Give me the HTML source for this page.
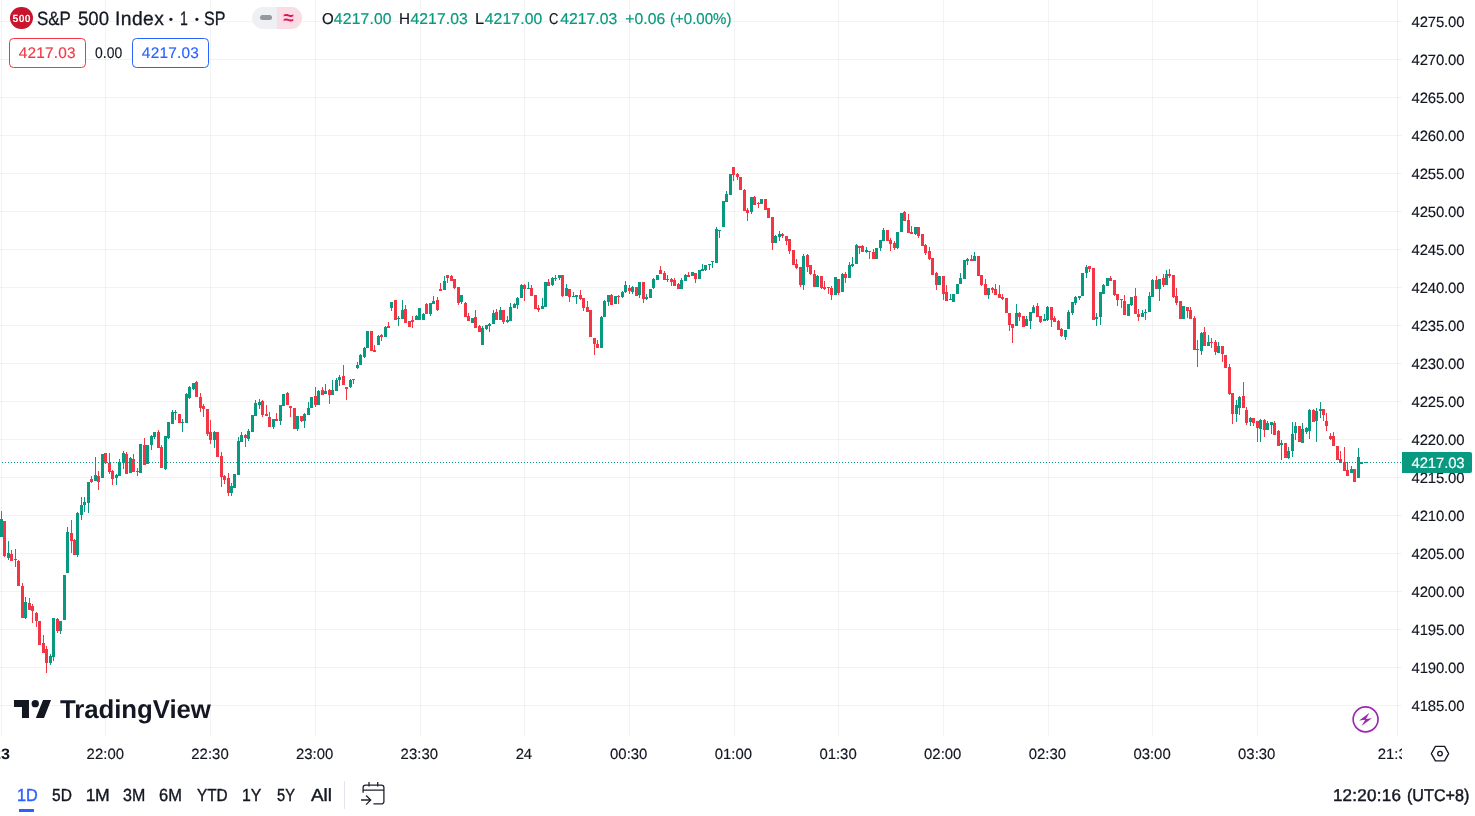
<!DOCTYPE html>
<html lang="en"><head><meta charset="utf-8"><title>S&amp;P 500 Index chart</title>
<style>
html,body{margin:0;padding:0;background:#fff}
body{width:1475px;height:816px;position:relative;overflow:hidden;font-family:"Liberation Sans",sans-serif}
.t{position:absolute;white-space:nowrap;font-family:"Liberation Sans",sans-serif;text-rendering:geometricPrecision}
svg{display:block}
</style></head><body>
<svg style="position:absolute;left:0;top:0" width="1475" height="816" viewBox="0 0 1475 816" shape-rendering="crispEdges">
<rect x="0" y="21" width="1402" height="1" fill="rgba(42,46,57,0.06)"/>
<rect x="0" y="59" width="1402" height="1" fill="rgba(42,46,57,0.06)"/>
<rect x="0" y="97" width="1402" height="1" fill="rgba(42,46,57,0.06)"/>
<rect x="0" y="135" width="1402" height="1" fill="rgba(42,46,57,0.06)"/>
<rect x="0" y="173" width="1402" height="1" fill="rgba(42,46,57,0.06)"/>
<rect x="0" y="211" width="1402" height="1" fill="rgba(42,46,57,0.06)"/>
<rect x="0" y="249" width="1402" height="1" fill="rgba(42,46,57,0.06)"/>
<rect x="0" y="287" width="1402" height="1" fill="rgba(42,46,57,0.06)"/>
<rect x="0" y="325" width="1402" height="1" fill="rgba(42,46,57,0.06)"/>
<rect x="0" y="363" width="1402" height="1" fill="rgba(42,46,57,0.06)"/>
<rect x="0" y="401" width="1402" height="1" fill="rgba(42,46,57,0.06)"/>
<rect x="0" y="439" width="1402" height="1" fill="rgba(42,46,57,0.06)"/>
<rect x="0" y="477" width="1402" height="1" fill="rgba(42,46,57,0.06)"/>
<rect x="0" y="515" width="1402" height="1" fill="rgba(42,46,57,0.06)"/>
<rect x="0" y="553" width="1402" height="1" fill="rgba(42,46,57,0.06)"/>
<rect x="0" y="591" width="1402" height="1" fill="rgba(42,46,57,0.06)"/>
<rect x="0" y="629" width="1402" height="1" fill="rgba(42,46,57,0.06)"/>
<rect x="0" y="667" width="1402" height="1" fill="rgba(42,46,57,0.06)"/>
<rect x="0" y="705" width="1402" height="1" fill="rgba(42,46,57,0.06)"/>
<rect x="1" y="0" width="1" height="736" fill="rgba(42,46,57,0.06)"/>
<rect x="105" y="0" width="1" height="736" fill="rgba(42,46,57,0.06)"/>
<rect x="210" y="0" width="1" height="736" fill="rgba(42,46,57,0.06)"/>
<rect x="315" y="0" width="1" height="736" fill="rgba(42,46,57,0.06)"/>
<rect x="420" y="0" width="1" height="736" fill="rgba(42,46,57,0.06)"/>
<rect x="524" y="0" width="1" height="736" fill="rgba(42,46,57,0.06)"/>
<rect x="629" y="0" width="1" height="736" fill="rgba(42,46,57,0.06)"/>
<rect x="734" y="0" width="1" height="736" fill="rgba(42,46,57,0.06)"/>
<rect x="838" y="0" width="1" height="736" fill="rgba(42,46,57,0.06)"/>
<rect x="943" y="0" width="1" height="736" fill="rgba(42,46,57,0.06)"/>
<rect x="1048" y="0" width="1" height="736" fill="rgba(42,46,57,0.06)"/>
<rect x="1152" y="0" width="1" height="736" fill="rgba(42,46,57,0.06)"/>
<rect x="1257" y="0" width="1" height="736" fill="rgba(42,46,57,0.06)"/>
<rect x="1397" y="0" width="1" height="736" fill="rgba(42,46,57,0.065)"/>
<path fill="#089981" d="M1 511h1V537h-1zM8 541h1V560h-1zM15 549h1V567h-1zM25 597h1V619h-1zM50 654h1V665h-1zM53 618h1V661h-1zM60 621h1V634h-1zM64 575h1V620h-1zM67 527h1V573h-1zM77 512h1V557h-1zM81 497h1V520h-1zM84 497h1V512h-1zM88 482h1V513h-1zM95 457h1V481h-1zM102 454h1V478h-1zM116 474h1V485h-1zM119 459h1V476h-1zM123 451h1V469h-1zM130 457h1V473h-1zM140 444h1V473h-1zM147 445h1V464h-1zM151 435h1V450h-1zM154 432h1V439h-1zM165 436h1V470h-1zM168 422h1V439h-1zM172 410h1V424h-1zM175 410h1V420h-1zM182 419h1V432h-1zM186 393h1V423h-1zM189 386h1V399h-1zM193 383h1V390h-1zM214 431h1V448h-1zM231 483h1V496h-1zM234 474h1V488h-1zM238 437h1V475h-1zM241 432h1V442h-1zM248 429h1V441h-1zM252 415h1V432h-1zM255 400h1V416h-1zM259 399h1V409h-1zM273 419h1V429h-1zM280 405h1V425h-1zM283 394h1V406h-1zM297 416h1V431h-1zM304 413h1V428h-1zM308 402h1V415h-1zM311 397h1V408h-1zM318 390h1V405h-1zM325 384h1V394h-1zM332 380h1V395h-1zM336 378h1V391h-1zM339 375h1V386h-1zM350 379h1V388h-1zM357 362h1V369h-1zM360 354h1V365h-1zM364 347h1V358h-1zM367 331h1V348h-1zM378 335h1V345h-1zM385 326h1V337h-1zM391 302h1V311h-1zM398 316h1V326h-1zM402 300h1V319h-1zM416 315h1V320h-1zM419 308h1V320h-1zM423 313h1V320h-1zM430 303h1V316h-1zM433 296h1V304h-1zM444 276h1V290h-1zM461 295h1V304h-1zM472 318h1V323h-1zM482 326h1V345h-1zM486 325h1V330h-1zM489 323h1V332h-1zM493 310h1V324h-1zM500 307h1V320h-1zM507 316h1V323h-1zM510 303h1V321h-1zM514 303h1V308h-1zM517 297h1V309h-1zM521 284h1V298h-1zM528 282h1V289h-1zM542 298h1V309h-1zM545 282h1V307h-1zM552 277h1V286h-1zM555 275h1V281h-1zM559 275h1V280h-1zM566 284h1V296h-1zM573 292h1V297h-1zM576 295h1V304h-1zM601 316h1V348h-1zM604 300h1V317h-1zM608 295h1V306h-1zM615 296h1V304h-1zM622 291h1V298h-1zM625 281h1V293h-1zM632 286h1V294h-1zM639 282h1V298h-1zM646 294h1V300h-1zM650 289h1V298h-1zM653 278h1V289h-1zM657 275h1V280h-1zM667 275h1V282h-1zM681 278h1V289h-1zM685 274h1V281h-1zM692 272h1V276h-1zM699 270h1V279h-1zM702 264h1V271h-1zM705 265h1V271h-1zM709 264h1V270h-1zM712 261h1V268h-1zM716 227h1V263h-1zM719 230h1V238h-1zM723 201h1V227h-1zM726 191h1V202h-1zM730 174h1V195h-1zM751 197h1V214h-1zM761 199h1V204h-1zM775 235h1V243h-1zM779 231h1V241h-1zM803 254h1V290h-1zM817 275h1V287h-1zM835 277h1V295h-1zM842 273h1V292h-1zM849 262h1V278h-1zM852 257h1V267h-1zM856 244h1V264h-1zM866 247h1V253h-1zM876 248h1V259h-1zM880 240h1V251h-1zM883 228h1V241h-1zM897 232h1V249h-1zM901 213h1V232h-1zM915 227h1V235h-1zM939 276h1V285h-1zM950 294h1V300h-1zM953 294h1V302h-1zM957 284h1V294h-1zM960 273h1V284h-1zM964 260h1V279h-1zM967 258h1V265h-1zM974 252h1V261h-1zM988 288h1V299h-1zM1016 304h1V326h-1zM1026 316h1V326h-1zM1030 312h1V329h-1zM1033 305h1V313h-1zM1044 314h1V321h-1zM1047 306h1V321h-1zM1065 330h1V340h-1zM1068 310h1V329h-1zM1072 302h1V315h-1zM1075 296h1V305h-1zM1079 296h1V300h-1zM1082 273h1V296h-1zM1086 265h1V278h-1zM1096 313h1V326h-1zM1100 292h1V325h-1zM1103 284h1V294h-1zM1107 278h1V286h-1zM1128 304h1V316h-1zM1131 297h1V306h-1zM1142 310h1V317h-1zM1145 309h1V320h-1zM1149 292h1V312h-1zM1152 279h1V297h-1zM1159 279h1V301h-1zM1166 270h1V285h-1zM1183 306h1V319h-1zM1201 332h1V355h-1zM1208 335h1V346h-1zM1218 342h1V353h-1zM1236 400h1V422h-1zM1239 396h1V415h-1zM1250 417h1V426h-1zM1260 419h1V442h-1zM1267 421h1V430h-1zM1271 422h1V434h-1zM1281 440h1V460h-1zM1288 447h1V459h-1zM1292 422h1V457h-1zM1295 422h1V440h-1zM1302 423h1V443h-1zM1306 427h1V434h-1zM1309 409h1V439h-1zM1316 408h1V442h-1zM1320 402h1V418h-1zM1351 466h1V473h-1zM1358 448h1V478h-1zM0 519h3V537h-3zM7 553h3V558h-3zM14 559h3V560h-3zM24 602h3V618h-3zM49 656h3V663h-3zM52 618h3V657h-3zM59 621h3V631h-3zM63 575h3V620h-3zM66 532h3V573h-3zM76 513h3V555h-3zM80 505h3V515h-3zM83 502h3V505h-3zM87 482h3V503h-3zM94 475h3V481h-3zM101 454h3V478h-3zM115 475h3V478h-3zM118 462h3V476h-3zM122 453h3V463h-3zM129 458h3V473h-3zM139 444h3V473h-3zM146 445h3V464h-3zM150 436h3V445h-3zM153 432h3V437h-3zM164 436h3V469h-3zM167 422h3V438h-3zM171 412h3V424h-3zM174 412h3V413h-3zM181 422h3V423h-3zM185 394h3V423h-3zM188 387h3V398h-3zM192 383h3V389h-3zM213 432h3V440h-3zM230 486h3V493h-3zM233 474h3V488h-3zM237 441h3V475h-3zM240 435h3V442h-3zM247 431h3V439h-3zM251 415h3V432h-3zM254 403h3V416h-3zM258 402h3V405h-3zM272 419h3V427h-3zM279 405h3V421h-3zM282 394h3V406h-3zM296 416h3V429h-3zM303 414h3V421h-3zM307 408h3V415h-3zM310 397h3V408h-3zM317 391h3V405h-3zM324 391h3V394h-3zM331 390h3V395h-3zM335 380h3V391h-3zM338 377h3V380h-3zM349 380h3V387h-3zM356 365h3V368h-3zM359 355h3V365h-3zM363 348h3V357h-3zM366 331h3V348h-3zM377 336h3V345h-3zM384 327h3V337h-3zM390 302h3V308h-3zM397 318h3V319h-3zM401 310h3V319h-3zM415 316h3V320h-3zM418 308h3V320h-3zM422 314h3V320h-3zM429 303h3V314h-3zM432 301h3V304h-3zM443 281h3V290h-3zM460 295h3V302h-3zM471 318h3V323h-3zM481 328h3V345h-3zM485 325h3V329h-3zM488 324h3V326h-3zM492 313h3V324h-3zM499 310h3V320h-3zM506 320h3V322h-3zM509 307h3V321h-3zM513 304h3V308h-3zM516 298h3V305h-3zM520 285h3V298h-3zM527 288h3V289h-3zM541 306h3V309h-3zM544 282h3V307h-3zM551 278h3V285h-3zM554 278h3V279h-3zM558 275h3V278h-3zM565 288h3V296h-3zM572 296h3V297h-3zM575 295h3V297h-3zM600 317h3V348h-3zM603 301h3V317h-3zM607 295h3V302h-3zM614 296h3V304h-3zM621 292h3V297h-3zM624 285h3V292h-3zM631 287h3V292h-3zM638 282h3V295h-3zM645 297h3V299h-3zM649 289h3V298h-3zM652 279h3V288h-3zM656 275h3V280h-3zM666 279h3V280h-3zM680 280h3V289h-3zM684 275h3V281h-3zM691 272h3V276h-3zM698 270h3V279h-3zM701 269h3V271h-3zM704 265h3V270h-3zM708 264h3V265h-3zM711 261h3V262h-3zM715 229h3V263h-3zM718 230h3V231h-3zM722 201h3V227h-3zM725 194h3V202h-3zM729 174h3V195h-3zM750 197h3V212h-3zM760 199h3V204h-3zM774 236h3V243h-3zM778 234h3V237h-3zM802 256h3V285h-3zM816 276h3V287h-3zM834 277h3V295h-3zM841 274h3V292h-3zM848 265h3V278h-3zM851 264h3V266h-3zM855 245h3V264h-3zM865 250h3V252h-3zM875 248h3V259h-3zM879 240h3V248h-3zM882 230h3V241h-3zM896 232h3V248h-3zM900 213h3V232h-3zM914 227h3V234h-3zM938 276h3V285h-3zM949 299h3V300h-3zM952 294h3V302h-3zM956 284h3V294h-3zM959 278h3V284h-3zM963 260h3V279h-3zM966 259h3V261h-3zM973 256h3V261h-3zM987 288h3V295h-3zM1015 313h3V326h-3zM1025 319h3V326h-3zM1029 312h3V321h-3zM1032 307h3V313h-3zM1043 319h3V321h-3zM1046 307h3V320h-3zM1064 330h3V337h-3zM1067 312h3V329h-3zM1071 302h3V313h-3zM1074 297h3V303h-3zM1078 296h3V298h-3zM1081 273h3V296h-3zM1085 267h3V273h-3zM1095 317h3V319h-3zM1099 292h3V317h-3zM1102 285h3V294h-3zM1106 278h3V286h-3zM1127 304h3V316h-3zM1130 297h3V305h-3zM1141 313h3V317h-3zM1144 312h3V313h-3zM1148 296h3V312h-3zM1151 280h3V297h-3zM1158 279h3V289h-3zM1165 274h3V285h-3zM1182 306h3V319h-3zM1200 333h3V351h-3zM1207 342h3V346h-3zM1217 346h3V353h-3zM1235 405h3V414h-3zM1238 397h3V408h-3zM1249 418h3V422h-3zM1259 420h3V429h-3zM1266 423h3V430h-3zM1270 422h3V425h-3zM1280 443h3V445h-3zM1287 451h3V458h-3zM1291 434h3V451h-3zM1294 426h3V433h-3zM1301 429h3V443h-3zM1305 428h3V432h-3zM1308 410h3V431h-3zM1315 411h3V421h-3zM1319 409h3V411h-3zM1350 469h3V473h-3zM1357 457h3V478h-3z"/>
<path fill="#F23645" d="M4 521h1V557h-1zM11 550h1V561h-1zM18 560h1V586h-1zM22 583h1V618h-1zM29 598h1V610h-1zM32 604h1V623h-1zM36 612h1V627h-1zM39 621h1V645h-1zM43 635h1V653h-1zM46 646h1V673h-1zM57 618h1V633h-1zM71 520h1V553h-1zM74 539h1V555h-1zM91 476h1V483h-1zM98 471h1V490h-1zM105 453h1V464h-1zM109 453h1V474h-1zM112 470h1V485h-1zM126 452h1V474h-1zM133 454h1V472h-1zM137 468h1V476h-1zM144 438h1V465h-1zM158 430h1V448h-1zM161 445h1V468h-1zM179 414h1V423h-1zM196 381h1V397h-1zM200 393h1V412h-1zM203 404h1V417h-1zM207 409h1V436h-1zM210 420h1V444h-1zM217 432h1V457h-1zM221 452h1V487h-1zM224 475h1V484h-1zM228 473h1V496h-1zM245 434h1V447h-1zM262 400h1V417h-1zM266 405h1V416h-1zM269 412h1V427h-1zM276 413h1V421h-1zM287 392h1V405h-1zM290 406h1V417h-1zM294 408h1V429h-1zM301 416h1V422h-1zM315 387h1V407h-1zM322 387h1V395h-1zM329 389h1V404h-1zM343 365h1V385h-1zM346 387h1V400h-1zM353 379h1V384h-1zM371 331h1V351h-1zM374 345h1V352h-1zM381 334h1V341h-1zM388 322h1V328h-1zM395 300h1V320h-1zM405 305h1V323h-1zM409 321h1V327h-1zM412 316h1V328h-1zM426 303h1V314h-1zM437 297h1V311h-1zM440 283h1V291h-1zM447 275h1V283h-1zM451 275h1V281h-1zM454 279h1V289h-1zM458 287h1V305h-1zM465 302h1V317h-1zM468 313h1V321h-1zM475 310h1V328h-1zM479 325h1V332h-1zM496 309h1V320h-1zM503 310h1V324h-1zM524 284h1V301h-1zM531 285h1V296h-1zM535 295h1V309h-1zM538 305h1V312h-1zM548 279h1V286h-1zM562 275h1V297h-1zM569 289h1V302h-1zM580 290h1V300h-1zM583 298h1V311h-1zM587 301h1V312h-1zM590 310h1V337h-1zM594 338h1V355h-1zM597 340h1V348h-1zM611 294h1V305h-1zM618 295h1V304h-1zM629 285h1V294h-1zM636 287h1V296h-1zM643 282h1V303h-1zM660 266h1V274h-1zM664 271h1V280h-1zM671 278h1V286h-1zM674 278h1V286h-1zM678 283h1V289h-1zM688 272h1V277h-1zM695 273h1V283h-1zM733 167h1V181h-1zM737 173h1V180h-1zM740 177h1V190h-1zM744 189h1V211h-1zM747 208h1V221h-1zM754 196h1V205h-1zM758 202h1V208h-1zM765 199h1V210h-1zM768 208h1V218h-1zM772 217h1V250h-1zM782 233h1V238h-1zM786 236h1V245h-1zM789 239h1V254h-1zM793 250h1V265h-1zM796 259h1V269h-1zM800 267h1V287h-1zM807 254h1V272h-1zM810 265h1V275h-1zM814 270h1V287h-1zM821 276h1V289h-1zM824 281h1V290h-1zM828 287h1V294h-1zM831 286h1V300h-1zM838 279h1V295h-1zM845 272h1V283h-1zM859 246h1V254h-1zM862 245h1V252h-1zM869 251h1V259h-1zM873 249h1V259h-1zM887 230h1V241h-1zM890 238h1V251h-1zM894 241h1V250h-1zM904 211h1V221h-1zM908 214h1V233h-1zM911 226h1V234h-1zM918 227h1V238h-1zM922 234h1V246h-1zM925 244h1V255h-1zM929 247h1V260h-1zM932 258h1V275h-1zM936 272h1V290h-1zM943 276h1V300h-1zM946 285h1V301h-1zM971 255h1V261h-1zM978 256h1V276h-1zM981 275h1V286h-1zM985 279h1V295h-1zM992 287h1V293h-1zM995 284h1V295h-1zM999 285h1V298h-1zM1002 294h1V300h-1zM1006 298h1V313h-1zM1009 313h1V331h-1zM1012 324h1V343h-1zM1019 312h1V321h-1zM1023 316h1V327h-1zM1037 303h1V317h-1zM1040 316h1V323h-1zM1051 307h1V327h-1zM1054 316h1V322h-1zM1058 320h1V330h-1zM1061 328h1V337h-1zM1089 266h1V272h-1zM1093 268h1V320h-1zM1110 276h1V281h-1zM1114 280h1V296h-1zM1117 294h1V306h-1zM1121 299h1V308h-1zM1124 295h1V315h-1zM1135 288h1V314h-1zM1138 309h1V321h-1zM1156 276h1V289h-1zM1163 274h1V287h-1zM1169 269h1V278h-1zM1173 275h1V298h-1zM1176 288h1V305h-1zM1180 301h1V319h-1zM1187 307h1V318h-1zM1190 307h1V319h-1zM1194 316h1V350h-1zM1197 340h1V367h-1zM1204 327h1V346h-1zM1211 338h1V348h-1zM1215 340h1V355h-1zM1222 346h1V362h-1zM1225 355h1V368h-1zM1229 364h1V395h-1zM1232 393h1V424h-1zM1243 382h1V408h-1zM1246 407h1V425h-1zM1253 418h1V426h-1zM1257 421h1V442h-1zM1264 419h1V437h-1zM1274 421h1V435h-1zM1278 430h1V446h-1zM1285 443h1V458h-1zM1299 426h1V442h-1zM1313 409h1V422h-1zM1323 409h1V421h-1zM1326 413h1V431h-1zM1330 433h1V440h-1zM1333 432h1V446h-1zM1337 446h1V460h-1zM1340 451h1V463h-1zM1344 447h1V471h-1zM1347 462h1V476h-1zM1354 469h1V482h-1zM3 521h3V556h-3zM10 554h3V561h-3zM17 561h3V586h-3zM21 586h3V618h-3zM28 603h3V610h-3zM31 606h3V611h-3zM35 613h3V621h-3zM38 621h3V645h-3zM42 643h3V653h-3zM45 649h3V663h-3zM56 619h3V631h-3zM70 533h3V541h-3zM73 540h3V555h-3zM90 479h3V482h-3zM97 476h3V482h-3zM104 453h3V463h-3zM108 463h3V472h-3zM111 471h3V479h-3zM125 454h3V474h-3zM132 459h3V472h-3zM136 471h3V472h-3zM143 445h3V465h-3zM157 432h3V448h-3zM160 447h3V468h-3zM178 414h3V423h-3zM195 382h3V397h-3zM199 397h3V408h-3zM202 406h3V409h-3zM206 409h3V434h-3zM209 432h3V440h-3zM216 432h3V457h-3zM220 456h3V477h-3zM223 476h3V480h-3zM227 478h3V493h-3zM244 435h3V438h-3zM261 401h3V415h-3zM265 414h3V416h-3zM268 417h3V427h-3zM275 419h3V421h-3zM286 393h3V405h-3zM289 406h3V408h-3zM293 408h3V429h-3zM300 416h3V421h-3zM314 396h3V405h-3zM321 390h3V395h-3zM328 390h3V395h-3zM342 376h3V385h-3zM345 387h3V389h-3zM352 379h3V380h-3zM370 331h3V351h-3zM373 350h3V352h-3zM380 335h3V337h-3zM387 326h3V328h-3zM394 300h3V320h-3zM404 309h3V323h-3zM408 321h3V327h-3zM411 320h3V322h-3zM425 304h3V314h-3zM436 300h3V310h-3zM439 289h3V291h-3zM446 275h3V278h-3zM450 276h3V281h-3zM453 279h3V288h-3zM457 287h3V303h-3zM464 303h3V317h-3zM467 316h3V321h-3zM474 317h3V328h-3zM478 326h3V332h-3zM495 312h3V320h-3zM502 310h3V322h-3zM523 285h3V289h-3zM530 288h3V296h-3zM534 295h3V309h-3zM537 308h3V310h-3zM547 282h3V286h-3zM561 275h3V296h-3zM568 289h3V297h-3zM579 295h3V299h-3zM582 298h3V308h-3zM586 307h3V312h-3zM589 310h3V337h-3zM593 338h3V344h-3zM596 344h3V348h-3zM610 295h3V305h-3zM617 296h3V297h-3zM628 288h3V291h-3zM635 287h3V296h-3zM642 282h3V299h-3zM659 270h3V274h-3zM663 273h3V280h-3zM670 279h3V282h-3zM673 280h3V286h-3zM677 284h3V289h-3zM687 275h3V277h-3zM694 273h3V279h-3zM732 167h3V175h-3zM736 174h3V177h-3zM739 177h3V190h-3zM743 190h3V211h-3zM746 210h3V213h-3zM753 197h3V205h-3zM757 203h3V204h-3zM764 199h3V210h-3zM767 208h3V218h-3zM771 217h3V243h-3zM781 234h3V236h-3zM785 236h3V241h-3zM788 239h3V251h-3zM792 250h3V265h-3zM795 264h3V268h-3zM799 267h3V285h-3zM806 255h3V267h-3zM809 265h3V274h-3zM813 274h3V287h-3zM820 276h3V288h-3zM823 287h3V289h-3zM827 287h3V288h-3zM830 288h3V295h-3zM837 279h3V293h-3zM844 274h3V278h-3zM858 246h3V248h-3zM861 246h3V252h-3zM868 251h3V252h-3zM872 252h3V259h-3zM886 230h3V241h-3zM889 240h3V244h-3zM893 243h3V248h-3zM903 212h3V221h-3zM907 220h3V233h-3zM910 232h3V234h-3zM917 227h3V236h-3zM921 234h3V246h-3zM924 245h3V253h-3zM928 251h3V259h-3zM931 258h3V275h-3zM935 273h3V285h-3zM942 276h3V294h-3zM945 292h3V301h-3zM970 259h3V261h-3zM977 256h3V276h-3zM980 275h3V285h-3zM984 284h3V295h-3zM991 288h3V290h-3zM994 289h3V295h-3zM998 294h3V298h-3zM1001 297h3V299h-3zM1005 298h3V313h-3zM1008 313h3V325h-3zM1011 324h3V328h-3zM1018 313h3V317h-3zM1022 316h3V327h-3zM1036 306h3V317h-3zM1039 316h3V322h-3zM1050 307h3V320h-3zM1053 318h3V322h-3zM1057 321h3V330h-3zM1060 329h3V336h-3zM1088 266h3V269h-3zM1092 268h3V320h-3zM1109 278h3V281h-3zM1113 280h3V295h-3zM1116 294h3V300h-3zM1120 299h3V300h-3zM1123 301h3V315h-3zM1134 296h3V314h-3zM1137 314h3V317h-3zM1155 280h3V289h-3zM1162 278h3V285h-3zM1168 274h3V276h-3zM1172 275h3V297h-3zM1175 296h3V303h-3zM1179 301h3V319h-3zM1186 307h3V311h-3zM1189 310h3V319h-3zM1193 318h3V350h-3zM1196 349h3V350h-3zM1203 332h3V346h-3zM1210 342h3V343h-3zM1214 342h3V352h-3zM1221 346h3V354h-3zM1224 355h3V368h-3zM1228 367h3V394h-3zM1231 393h3V414h-3zM1242 396h3V408h-3zM1245 410h3V423h-3zM1252 418h3V423h-3zM1256 421h3V428h-3zM1263 420h3V430h-3zM1273 423h3V435h-3zM1277 431h3V446h-3zM1284 443h3V458h-3zM1298 426h3V442h-3zM1312 410h3V422h-3zM1322 409h3V415h-3zM1325 421h3V426h-3zM1329 436h3V439h-3zM1332 436h3V446h-3zM1336 446h3V460h-3zM1339 459h3V463h-3zM1343 462h3V471h-3zM1346 470h3V476h-3zM1353 469h3V482h-3z"/>
<line x1="2" y1="462.5" x2="1357" y2="462.5" stroke="#089981" stroke-width="1" stroke-dasharray="1 2"/><line x1="1370" y1="462.5" x2="1402" y2="462.5" stroke="#089981" stroke-width="1" stroke-dasharray="1 2"/>
<rect x="1360" y="462" width="3" height="2" fill="#089981"/><rect x="1364" y="462" width="4" height="1" fill="#089981"/>
</svg>
<div class="t" style="left:1411.56px;top:14.83px;font-size:14.9px;line-height:17.88px;letter-spacing:-0.139px;color:#131722;-webkit-text-stroke:0.15px #131722;">4275.00</div>
<div class="t" style="left:1411.56px;top:52.83px;font-size:14.9px;line-height:17.88px;letter-spacing:-0.139px;color:#131722;-webkit-text-stroke:0.15px #131722;">4270.00</div>
<div class="t" style="left:1411.56px;top:90.83px;font-size:14.9px;line-height:17.88px;letter-spacing:-0.139px;color:#131722;-webkit-text-stroke:0.15px #131722;">4265.00</div>
<div class="t" style="left:1411.56px;top:128.83px;font-size:14.9px;line-height:17.88px;letter-spacing:-0.139px;color:#131722;-webkit-text-stroke:0.15px #131722;">4260.00</div>
<div class="t" style="left:1411.56px;top:166.83px;font-size:14.9px;line-height:17.88px;letter-spacing:-0.139px;color:#131722;-webkit-text-stroke:0.15px #131722;">4255.00</div>
<div class="t" style="left:1411.56px;top:204.83px;font-size:14.9px;line-height:17.88px;letter-spacing:-0.139px;color:#131722;-webkit-text-stroke:0.15px #131722;">4250.00</div>
<div class="t" style="left:1411.56px;top:242.83px;font-size:14.9px;line-height:17.88px;letter-spacing:-0.139px;color:#131722;-webkit-text-stroke:0.15px #131722;">4245.00</div>
<div class="t" style="left:1411.56px;top:280.83px;font-size:14.9px;line-height:17.88px;letter-spacing:-0.139px;color:#131722;-webkit-text-stroke:0.15px #131722;">4240.00</div>
<div class="t" style="left:1411.56px;top:318.83px;font-size:14.9px;line-height:17.88px;letter-spacing:-0.139px;color:#131722;-webkit-text-stroke:0.15px #131722;">4235.00</div>
<div class="t" style="left:1411.56px;top:356.83px;font-size:14.9px;line-height:17.88px;letter-spacing:-0.139px;color:#131722;-webkit-text-stroke:0.15px #131722;">4230.00</div>
<div class="t" style="left:1411.56px;top:394.83px;font-size:14.9px;line-height:17.88px;letter-spacing:-0.139px;color:#131722;-webkit-text-stroke:0.15px #131722;">4225.00</div>
<div class="t" style="left:1411.56px;top:432.83px;font-size:14.9px;line-height:17.88px;letter-spacing:-0.139px;color:#131722;-webkit-text-stroke:0.15px #131722;">4220.00</div>
<div class="t" style="left:1411.56px;top:470.83px;font-size:14.9px;line-height:17.88px;letter-spacing:-0.139px;color:#131722;-webkit-text-stroke:0.15px #131722;">4215.00</div>
<div class="t" style="left:1411.56px;top:508.83px;font-size:14.9px;line-height:17.88px;letter-spacing:-0.139px;color:#131722;-webkit-text-stroke:0.15px #131722;">4210.00</div>
<div class="t" style="left:1411.56px;top:546.83px;font-size:14.9px;line-height:17.88px;letter-spacing:-0.139px;color:#131722;-webkit-text-stroke:0.15px #131722;">4205.00</div>
<div class="t" style="left:1411.56px;top:584.83px;font-size:14.9px;line-height:17.88px;letter-spacing:-0.139px;color:#131722;-webkit-text-stroke:0.15px #131722;">4200.00</div>
<div class="t" style="left:1411.56px;top:622.83px;font-size:14.9px;line-height:17.88px;letter-spacing:-0.139px;color:#131722;-webkit-text-stroke:0.15px #131722;">4195.00</div>
<div class="t" style="left:1411.56px;top:660.83px;font-size:14.9px;line-height:17.88px;letter-spacing:-0.139px;color:#131722;-webkit-text-stroke:0.15px #131722;">4190.00</div>
<div class="t" style="left:1411.56px;top:698.83px;font-size:14.9px;line-height:17.88px;letter-spacing:-0.139px;color:#131722;-webkit-text-stroke:0.15px #131722;">4185.00</div>
<div style="position:absolute;left:1402px;top:452px;width:70px;height:21px;background:#089981;border-radius:0 2px 2px 0"></div>
<div class="t" style="left:1411.56px;top:455.63px;font-size:14.9px;line-height:17.88px;letter-spacing:-0.126px;color:#fff;-webkit-text-stroke:0.15px #fff;">4217.03</div>
<div class="t" style="left:86.56px;top:746.93px;font-size:14.9px;line-height:17.88px;letter-spacing:0.054px;color:#131722;-webkit-text-stroke:0.15px #131722;">22:00</div>
<div class="t" style="left:191.22px;top:746.93px;font-size:14.9px;line-height:17.88px;letter-spacing:0.054px;color:#131722;-webkit-text-stroke:0.15px #131722;">22:30</div>
<div class="t" style="left:295.89px;top:746.93px;font-size:14.9px;line-height:17.88px;letter-spacing:0.054px;color:#131722;-webkit-text-stroke:0.15px #131722;">23:00</div>
<div class="t" style="left:400.55px;top:746.93px;font-size:14.9px;line-height:17.88px;letter-spacing:0.054px;color:#131722;-webkit-text-stroke:0.15px #131722;">23:30</div>
<div class="t" style="left:515.67px;top:746.93px;font-size:14.9px;line-height:17.88px;letter-spacing:-0.084px;color:#131722;-webkit-text-stroke:0.15px #131722;">24</div>
<div class="t" style="left:610.07px;top:746.93px;font-size:14.9px;line-height:17.88px;letter-spacing:0.008px;color:#131722;-webkit-text-stroke:0.15px #131722;">00:30</div>
<div class="t" style="left:714.73px;top:746.93px;font-size:14.9px;line-height:17.88px;letter-spacing:0.008px;color:#131722;-webkit-text-stroke:0.15px #131722;">01:00</div>
<div class="t" style="left:819.40px;top:746.93px;font-size:14.9px;line-height:17.88px;letter-spacing:0.008px;color:#131722;-webkit-text-stroke:0.15px #131722;">01:30</div>
<div class="t" style="left:924.06px;top:746.93px;font-size:14.9px;line-height:17.88px;letter-spacing:0.008px;color:#131722;-webkit-text-stroke:0.15px #131722;">02:00</div>
<div class="t" style="left:1028.73px;top:746.93px;font-size:14.9px;line-height:17.88px;letter-spacing:0.008px;color:#131722;-webkit-text-stroke:0.15px #131722;">02:30</div>
<div class="t" style="left:1133.39px;top:746.93px;font-size:14.9px;line-height:17.88px;letter-spacing:0.008px;color:#131722;-webkit-text-stroke:0.15px #131722;">03:00</div>
<div class="t" style="left:1238.06px;top:746.93px;font-size:14.9px;line-height:17.88px;letter-spacing:0.008px;color:#131722;-webkit-text-stroke:0.15px #131722;">03:30</div>
<div class="t" style="left:-8.27px;top:746.93px;font-size:14.9px;line-height:17.88px;transform:scaleX(1.0842);transform-origin:0 0;color:#131722;font-weight:700;">23</div>
<div style="position:absolute;left:0;top:736px;width:1402px;height:40px;overflow:hidden"><div style="position:absolute;left:0;top:-736px;width:1475px;height:816px">
<div class="t" style="left:1377.66px;top:746.93px;font-size:14.9px;line-height:17.88px;letter-spacing:0.054px;color:#131722;-webkit-text-stroke:0.15px #131722;">21:30</div>
</div></div>
<div style="position:absolute;left:10.1px;top:6.7px;width:22.9px;height:22.5px;border-radius:50%;background:#C8142D"></div>
<div class="t" style="left:12.59px;top:13.78px;font-size:10.4px;line-height:12.48px;letter-spacing:0.293px;color:#fff;font-weight:700;">500</div>
<div class="t" style="left:37.34px;top:7.94px;font-size:19.3px;line-height:23.16px;transform:scaleX(0.8785);transform-origin:0 0;color:#131722;-webkit-text-stroke:0.3px #131722;">S&amp;P</div>
<div class="t" style="left:78.46px;top:7.94px;font-size:19.3px;line-height:23.16px;transform:scaleX(0.9646);transform-origin:0 0;color:#131722;-webkit-text-stroke:0.3px #131722;">500</div>
<div class="t" style="left:115.11px;top:7.94px;font-size:19.3px;line-height:23.16px;letter-spacing:0.385px;color:#131722;-webkit-text-stroke:0.3px #131722;">Index</div>
<div class="t" style="left:179.74px;top:7.94px;font-size:19.3px;line-height:23.16px;transform:scaleX(0.7308);transform-origin:0 0;color:#131722;-webkit-text-stroke:0.3px #131722;">1</div>
<div class="t" style="left:204.48px;top:7.94px;font-size:19.3px;line-height:23.16px;transform:scaleX(0.8332);transform-origin:0 0;color:#131722;-webkit-text-stroke:0.3px #131722;">SP</div>
<svg style="position:absolute;left:165.45px;top:10px" width="12" height="20"><text x="1.35" y="18.78" font-family="Liberation Serif, serif" font-size="28" fill="#131722">·</text></svg>
<svg style="position:absolute;left:190.90px;top:10px" width="12" height="20"><text x="1.35" y="18.78" font-family="Liberation Serif, serif" font-size="28" fill="#131722">·</text></svg>
<div style="position:absolute;left:252px;top:6.85px;width:49.9px;height:22.1px;border-radius:11.05px;overflow:hidden;background:#EEF0F3"><div style="position:absolute;left:24.95px;top:0;width:26px;height:23px;background:#FADCE6"></div><div style="position:absolute;left:7.75px;top:8.35px;width:12.4px;height:5.3px;border-radius:2.65px;background:#9598A1"></div></div>
<div class="t" style="left:283.20px;top:8.22px;font-size:19px;line-height:22.80px;color:#E0144F;font-weight:700;">≈</div>
<div class="t" style="left:321.98px;top:10.76px;font-size:15.7px;line-height:18.84px;transform:scaleX(0.9612);transform-origin:0 0;color:#131722;-webkit-text-stroke:0.2px #131722;">O</div>
<div class="t" style="left:333.85px;top:10.76px;font-size:15.7px;line-height:18.84px;letter-spacing:0.171px;color:#089981;-webkit-text-stroke:0.2px #089981;">4217.00</div>
<div class="t" style="left:398.54px;top:10.76px;font-size:15.7px;line-height:18.84px;transform:scaleX(0.9711);transform-origin:0 0;color:#131722;-webkit-text-stroke:0.2px #131722;">H</div>
<div class="t" style="left:410.45px;top:10.76px;font-size:15.7px;line-height:18.84px;letter-spacing:0.101px;color:#089981;-webkit-text-stroke:0.2px #089981;">4217.03</div>
<div class="t" style="left:474.85px;top:10.76px;font-size:15.7px;line-height:18.84px;transform:scaleX(1.0423);transform-origin:0 0;color:#131722;-webkit-text-stroke:0.2px #131722;">L</div>
<div class="t" style="left:484.75px;top:10.76px;font-size:15.7px;line-height:18.84px;letter-spacing:0.138px;color:#089981;-webkit-text-stroke:0.2px #089981;">4217.00</div>
<div class="t" style="left:549.45px;top:10.76px;font-size:15.7px;line-height:18.84px;transform:scaleX(0.8225);transform-origin:0 0;color:#131722;-webkit-text-stroke:0.2px #131722;">C</div>
<div class="t" style="left:560.15px;top:10.76px;font-size:15.7px;line-height:18.84px;letter-spacing:0.067px;color:#089981;-webkit-text-stroke:0.2px #089981;">4217.03</div>
<div class="t" style="left:625.25px;top:10.76px;font-size:15.7px;line-height:18.84px;letter-spacing:0.073px;color:#089981;-webkit-text-stroke:0.2px #089981;">+0.06</div>
<div class="t" style="left:670.46px;top:10.76px;font-size:15.7px;line-height:18.84px;transform:scaleX(0.9580);transform-origin:0 0;color:#089981;-webkit-text-stroke:0.2px #089981;">(+0.00%)</div>
<div style="position:absolute;left:9.1px;top:37.9px;width:76.9px;height:29.9px;box-sizing:border-box;border:1.15px solid #F23645;border-radius:4.5px;background:#fff"></div>
<div style="position:absolute;left:132px;top:37.9px;width:77.1px;height:29.9px;box-sizing:border-box;border:1.15px solid #2962FF;border-radius:4.5px;background:#fff"></div>
<div class="t" style="left:18.75px;top:45.14px;font-size:15.4px;line-height:18.48px;letter-spacing:0.195px;color:#F23645;-webkit-text-stroke:0.15px #F23645;">4217.03</div>
<div class="t" style="left:95.48px;top:45.14px;font-size:15.4px;line-height:18.48px;transform:scaleX(0.9063);transform-origin:0 0;color:#131722;-webkit-text-stroke:0.15px #131722;">0.00</div>
<div class="t" style="left:141.85px;top:45.14px;font-size:15.4px;line-height:18.48px;letter-spacing:0.228px;color:#2962FF;-webkit-text-stroke:0.15px #2962FF;">4217.03</div>
<svg style="position:absolute;left:10px;top:696px" width="46" height="26" viewBox="10 696 46 26"><path fill="#131722" d="M13.98 700.05H28.98V718.04H21.97V706.9H13.98zM43.05 700.05H51.04L44.03 718.04H35.84z"/><circle cx="35.25" cy="703.65" r="3.68" fill="#131722"/></svg>
<div class="t" style="left:59.94px;top:694.72px;font-size:25.8px;line-height:30.96px;letter-spacing:-0.052px;color:#131722;font-weight:700;">TradingView</div>
<div class="t" style="left:16.68px;top:784.74px;font-size:17.6px;line-height:21.12px;transform:scaleX(0.9248);transform-origin:0 0;color:#2962FF;-webkit-text-stroke:0.4px #2962FF;">1D</div>
<div class="t" style="left:51.88px;top:784.74px;font-size:17.6px;line-height:21.12px;transform:scaleX(0.8833);transform-origin:0 0;color:#131722;-webkit-text-stroke:0.4px #131722;">5D</div>
<div class="t" style="left:85.78px;top:784.74px;font-size:17.6px;line-height:21.12px;letter-spacing:-0.492px;color:#131722;-webkit-text-stroke:0.4px #131722;">1M</div>
<div class="t" style="left:123.40px;top:784.74px;font-size:17.6px;line-height:21.12px;transform:scaleX(0.9082);transform-origin:0 0;color:#131722;-webkit-text-stroke:0.4px #131722;">3M</div>
<div class="t" style="left:159.48px;top:784.74px;font-size:17.6px;line-height:21.12px;transform:scaleX(0.9353);transform-origin:0 0;color:#131722;-webkit-text-stroke:0.4px #131722;">6M</div>
<div class="t" style="left:196.55px;top:784.74px;font-size:17.6px;line-height:21.12px;transform:scaleX(0.8714);transform-origin:0 0;color:#131722;-webkit-text-stroke:0.4px #131722;">YTD</div>
<div class="t" style="left:241.71px;top:784.74px;font-size:17.6px;line-height:21.12px;transform:scaleX(0.9040);transform-origin:0 0;color:#131722;-webkit-text-stroke:0.4px #131722;">1Y</div>
<div class="t" style="left:276.61px;top:784.74px;font-size:17.6px;line-height:21.12px;transform:scaleX(0.8327);transform-origin:0 0;color:#131722;-webkit-text-stroke:0.4px #131722;">5Y</div>
<div class="t" style="left:310.75px;top:784.74px;font-size:17.6px;line-height:21.12px;transform:scaleX(1.0737);transform-origin:0 0;color:#131722;-webkit-text-stroke:0.4px #131722;">All</div>
<div style="position:absolute;left:19px;top:808.9px;width:15px;height:2.9px;background:#2962FF"></div>
<div style="position:absolute;left:344px;top:781px;width:1px;height:28px;background:#E3E5EE"></div>
<svg style="position:absolute;left:355px;top:776px" width="36" height="36" viewBox="355 776 36 36" fill="none" stroke="#1E222D" stroke-width="1.3"><path d="M369 782v4.6M377.7 782v4.6M363.1 790.1H383.9M363.1 792.75V787.55a2.5 2.5 0 0 1 2.5-2.5H381.4a2.5 2.5 0 0 1 2.5 2.5V801.4a2.5 2.5 0 0 1-2.5 2.5H373.4M361 800H370.7M366.1 795.45L370.7 800L366.1 804.6"/></svg>
<div class="t" style="left:1332.92px;top:786.00px;font-size:17px;line-height:20.40px;letter-spacing:0.261px;color:#131722;-webkit-text-stroke:0.45px #131722;">12:20:16</div>
<div class="t" style="left:1406.99px;top:786.00px;font-size:17px;line-height:20.40px;transform:scaleX(0.9490);transform-origin:0 0;color:#131722;-webkit-text-stroke:0.45px #131722;">(UTC+8)</div>
<svg style="position:absolute;left:1350px;top:704px" width="32" height="32" viewBox="1350 704 32 32"><circle cx="1365.6" cy="719.35" r="14" fill="#fff"/><circle cx="1365.6" cy="719.35" r="12.45" fill="#fff" stroke="#9C27B0" stroke-width="1.65"/><path d="M1369.5 712.8L1359.2 720.4L1365.3 719.8L1361.5 726L1371.9 718.3L1365.9 718.95z" fill="#9C27B0"/></svg>
<svg style="position:absolute;left:1428px;top:742px" width="24" height="24" viewBox="1428 742 24 24" fill="none" stroke="#131722" stroke-width="1.3"><path d="M1431.35 753.6L1435.4 746.4H1444.6L1448.65 753.6L1444.6 760.9H1435.4z" stroke-linejoin="round"/><circle cx="1440" cy="753.6" r="2.3"/></svg>
</body></html>
